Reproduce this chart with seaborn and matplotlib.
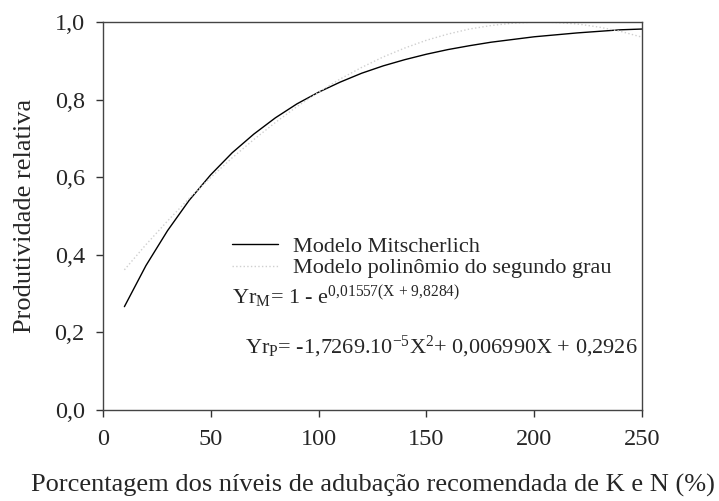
import numpy as np
import pandas as pd
import matplotlib
matplotlib.use("Agg")
import matplotlib.pyplot as plt
import seaborn as sns

# Values
dose = [10, 20, 30, 40, 50, 60, 70, 80, 90, 100, 110, 120, 130,
        140, 150, 160, 170, 180, 190, 200, 210, 220, 230, 240, 250]
yr_mitscherlich = [0.266, 0.372, 0.462, 0.540, 0.606, 0.663, 0.711, 0.753,
                   0.789, 0.819, 0.845, 0.868, 0.887, 0.903, 0.917, 0.929,
                   0.939, 0.948, 0.955, 0.962, 0.967, 0.972, 0.976, 0.980, 0.982]
yr_polinomio = [0.361, 0.426, 0.487, 0.545, 0.599, 0.650, 0.697, 0.741,
                0.782, 0.819, 0.853, 0.883, 0.910, 0.933, 0.953, 0.969,
                0.982, 0.991, 0.997, 1.000, 0.999, 0.995, 0.987, 0.976, 0.961]
x_ticks = [0, 50, 100, 150, 200, 250]
y_ticks = [0.0, 0.2, 0.4, 0.6, 0.8, 1.0]
y_ticklabels = ["0,0", "0,2", "0,4", "0,6", "0,8", "1,0"]

df = pd.DataFrame({"X": dose, "M": yr_mitscherlich, "P": yr_polinomio})

sns.set_style("ticks")
plt.rcParams["font.family"] = ["Liberation Serif", "DejaVu Serif"]
plt.rcParams["mathtext.fontset"] = "custom"
plt.rcParams["mathtext.rm"] = "Liberation Serif"
plt.rcParams["mathtext.it"] = "Liberation Serif:italic"

fig = plt.figure(figsize=(7.19, 5.01), dpi=100)
ax = fig.add_axes([0.143, 0.182, 0.750, 0.774])

sns.lineplot(data=df, x="X", y="M", ax=ax, color="black", linewidth=1.0,
             label="Modelo Mitscherlich")
sns.lineplot(data=df, x="X", y="P", ax=ax, color="#cfcfcf", linewidth=1.0,
             linestyle=":", label="Modelo polinômio do segundo grau")

ax.set_xlim(0, 250)
ax.set_ylim(0, 1.0)
ax.set_xticks(x_ticks)
ax.set_yticks(y_ticks)
ax.set_yticklabels(y_ticklabels)
ax.tick_params(axis="both", labelsize=17.5, length=5, width=1, color="#333333",
               direction="out")
ax.tick_params(axis="x", pad=9)
ax.tick_params(axis="y", pad=8)
for s in ax.spines.values():
    s.set_color("#444444")
    s.set_linewidth(1)
    s.set_visible(True)

ax.set_xlabel("Porcentagem dos níveis de adubação recomendada de K e N (%)",
              fontsize=19, labelpad=17)
ax.set_ylabel("Produtividade relativa", fontsize=19, labelpad=13)

ax.legend(loc="upper left", bbox_to_anchor=(0.239, 0.448), frameon=False,
          fontsize=16, handlelength=2.1, handletextpad=0.65, labelspacing=0.05,
          borderpad=0, borderaxespad=0)

ax.text(60, 0.27,
        r"Yr$_{\mathrm{M}}$= 1 - e$^{\mathrm{0{,}01557(X\,+\,9{,}8284)}}$",
        fontsize=16, ha="left", va="baseline")
ax.text(248, 0.145,
        r"Yr$_{\mathrm{P}}$= -1,7269.10$^{\mathrm{-5}}$X$^{\mathrm{2}}$+ 0,006990X + 0,2926",
        fontsize=16, ha="right", va="baseline")

fig.savefig("out.png", dpi=100)
